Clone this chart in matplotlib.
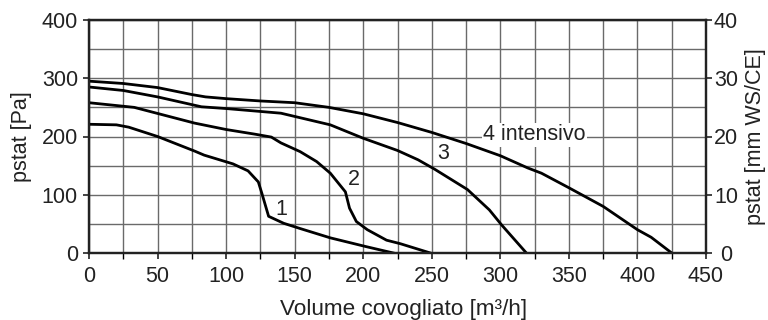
import matplotlib
matplotlib.use("Agg")
import matplotlib.pyplot as plt
from matplotlib.ticker import MultipleLocator

plt.rcParams['font.family'] = ['Liberation Sans', 'DejaVu Sans']

# Curve 1
x1 = [0, 20, 29, 50, 77, 84, 105, 116, 123.5, 126, 131, 142, 154, 176, 202, 222]
y1 = [221, 220, 216, 200, 175, 168, 153, 141, 122, 103, 63, 51, 42, 26, 11, 0]
# Curve 2
x2 = [0, 33, 77, 100, 121, 133, 140, 154, 166, 176, 187, 190, 195, 203, 217, 227, 249]
y2 = [258, 250, 223, 212, 204, 199, 189, 174, 157, 137, 105, 77, 54, 40, 22, 16, 0]
# Curve 3
x3 = [0, 25, 50, 82, 100, 120, 140, 176, 200, 225, 240, 252, 276, 292, 301, 319]
y3 = [285, 279, 268, 251, 248, 244, 240, 220, 197, 176, 160, 144, 109, 74, 48, 0]
# Curve 4 intensivo
x4 = [0, 25, 50, 75, 85, 100, 125, 150, 175, 200, 225, 250, 275, 300, 320, 330, 350, 375, 400, 410, 425]
y4 = [295, 291, 284, 272, 268, 265, 261, 258, 250, 239, 224, 207, 188, 167, 146, 137, 112, 80, 40, 27, 0]

curve_labels = ["1", "2", "3", "4 intensivo"]
label_pos = [(140.5, 75), (193.3, 126.5), (258.4, 170), (324.7, 202.6)]

FS = 15.5
TC = '#222222'
W, H = 768, 320

fig = plt.figure(figsize=(7.68, 3.2), dpi=100)
ax = fig.add_axes([89/W, 1-253/H, (706-89)/W, (253-20)/H])

ax.set_xlim(0, 450)
ax.set_ylim(0, 400)
ax.xaxis.set_major_locator(MultipleLocator(50))
ax.xaxis.set_minor_locator(MultipleLocator(25))
ax.yaxis.set_major_locator(MultipleLocator(100))
ax.yaxis.set_minor_locator(MultipleLocator(50))
ax.grid(True, which='both', color='#6a6a6a', linewidth=1.0, zorder=1)
ax.set_axisbelow(True)

for xs, ys in [(x1, y1), (x2, y2), (x3, y3), (x4, y4)]:
    ax.plot(xs, ys, color='black', linewidth=2.0, zorder=3)

for i, (lab, (lx, ly)) in enumerate(zip(curve_labels, label_pos)):
    kw = {}
    if i == 3:
        kw['bbox'] = dict(facecolor='white', edgecolor='none', pad=1.0)
    ax.text(lx, ly, lab, fontsize=FS, ha='center', va='center', color=TC, zorder=4, **kw)

for s in ax.spines.values():
    s.set_linewidth(1.6)
    s.set_color(TC)

ax.tick_params(which='major', direction='out', length=4, width=1.2, labelsize=FS, colors=TC)
ax.tick_params(axis='x', which='major', pad=5)
ax.tick_params(axis='y', which='major', pad=4)
ax.tick_params(axis='x', which='minor', direction='out', length=4, width=1.0)
ax.tick_params(axis='y', which='minor', length=0)

ax2 = ax.twinx()
ax2.set_ylim(0, 40)
ax2.yaxis.set_major_locator(MultipleLocator(10))
ax2.tick_params(direction='out', length=4, width=1.2, labelsize=FS, colors=TC, pad=10.4)
for lbl in ax2.get_yticklabels():
    lbl.set_horizontalalignment('center')
for s in ax2.spines.values():
    s.set_linewidth(1.6)
    s.set_color(TC)

yc = 1 - 136.5/H
fig.text(22/W, yc, "pstat [Pa]", rotation=90, ha='center', va='center', fontsize=FS, color=TC)
fig.text(756/W, yc, "pstat [mm WS/CE]", rotation=90, ha='center', va='center', fontsize=FS, color=TC)
fig.text(404/W, 5.5/H, "Volume covogliato [m³/h]", ha='center', va='baseline', fontsize=16.2, color=TC)

fig.savefig("out.png", dpi=100)
